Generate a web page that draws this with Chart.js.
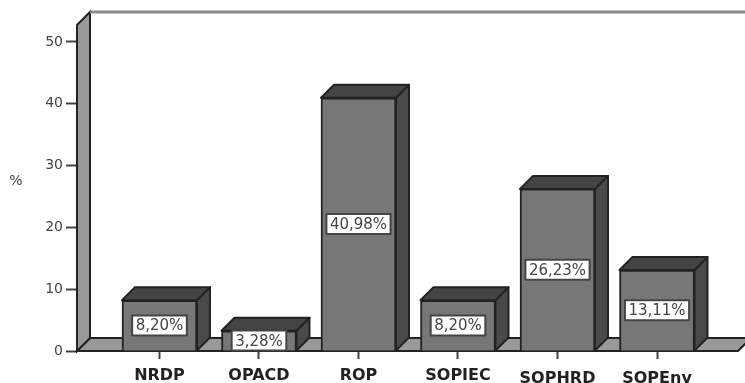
<!DOCTYPE html>
<html>
<head>
<meta charset="utf-8">
<title>Share by programme</title>
<script src="https://cdn.jsdelivr.net/npm/chart.js@4/dist/chart.umd.js"></script>
<style>
  html, body { margin: 0; padding: 0; background: #fff; }
  #wrap { position: relative; width: 745px; height: 383px; }
</style>
</head>
<body>
<div id="wrap"><canvas id="chart"></canvas></div>
<script>
const categories = ["NRDP", "OPACD", "ROP", "SOPIEC", "SOPHRD", "SOPEnv"];
const percentages = [8.20, 3.28, 40.98, 8.20, 26.23, 13.11];
const yTicks = [0, 10, 20, 30, 40, 50];

const DEPTH = 13;
const INK = "#222";
const FONT = "'DejaVu Sans', sans-serif";

function poly(ctx, pts, fill) {
  ctx.beginPath();
  pts.forEach((p, i) => i ? ctx.lineTo(p[0], p[1]) : ctx.moveTo(p[0], p[1]));
  ctx.closePath();
  ctx.fillStyle = fill;
  ctx.fill();
  ctx.stroke();
}

// the last two category labels sit a little lower
const labelDropPlugin = {
  id: "labelDrop",
  beforeDraw(chart) {
    const s = chart.scales.x;
    s.getLabelItems(chart.chartArea).slice(4).forEach(item => {
      if (!item.dropped) {
        item.textOffset += 3;
        item.dropped = true;
      }
    });
  }
};

// left wall, floor and back wall
const roomPlugin = {
  id: "room",
  beforeDatasetsDraw(chart) {
    const { ctx, chartArea: a } = chart;
    const y0 = chart.scales.y.getPixelForValue(0);
    ctx.save();
    ctx.strokeStyle = INK;
    ctx.lineWidth = 2;
    poly(ctx, [[a.left, y0], [a.left + DEPTH, y0 - DEPTH], [a.right + DEPTH, y0 - DEPTH], [a.right, y0]], "#999");
    poly(ctx, [[a.left, a.top], [a.left + DEPTH, a.top - DEPTH], [a.left + DEPTH, y0 - DEPTH], [a.left, y0]], "#999");
    ctx.strokeStyle = "#8a8a8a";
    ctx.lineWidth = 3;
    ctx.beginPath();
    ctx.moveTo(a.left + DEPTH, a.top - DEPTH);
    ctx.lineTo(a.right + DEPTH, a.top - DEPTH);
    ctx.stroke();
    ctx.restore();
  }
};

// side and top faces, then the value boxes on the front
const barFacesPlugin = {
  id: "barFaces",
  afterDatasetsDraw(chart) {
    const { ctx } = chart;
    const bars = chart.getDatasetMeta(0).data;
    ctx.save();
    ctx.strokeStyle = INK;
    ctx.lineWidth = 2;
    ctx.lineJoin = "round";
    bars.forEach(b => {
      const l = b.x - b.width / 2, r = b.x + b.width / 2;
      poly(ctx, [[r, b.y], [r + DEPTH, b.y - DEPTH], [r + DEPTH, b.base - DEPTH], [r, b.base]], "#4a4a4a");
      poly(ctx, [[l, b.y], [l + DEPTH, b.y - DEPTH], [r + DEPTH, b.y - DEPTH], [r, b.y]], "#444");
    });
    ctx.font = "15px " + FONT;
    ctx.textAlign = "center";
    ctx.textBaseline = "middle";
    bars.forEach((b, i) => {
      const text = percentages[i].toFixed(2).replace(".", ",") + "%";
      const w = ctx.measureText(text).width + 7;
      const cy = (b.y + b.base) / 2;
      ctx.fillStyle = "#fff";
      ctx.strokeStyle = "#444";
      ctx.lineWidth = 2;
      ctx.fillRect(b.x - w / 2, cy - 10, w, 20);
      ctx.strokeRect(b.x - w / 2, cy - 10, w, 20);
      ctx.fillStyle = "#444";
      ctx.fillText(text, b.x, cy + 1);
    });
    ctx.restore();
  }
};

new Chart(document.getElementById("chart"), {
  type: "bar",
  data: {
    datasets: [{
      data: percentages.map((v, i) => ({ x: i, y: v })),
      backgroundColor: "#777",
      borderColor: INK,
      borderWidth: 2,
      barThickness: 75
    }]
  },
  options: {
    responsive: true,
    maintainAspectRatio: false,
    animation: false,
    layout: { padding: { top: 25, right: 7, left: 0, bottom: 0 } },
    plugins: { legend: { display: false }, tooltip: { enabled: false } },
    scales: {
      x: {
        type: "linear",
        offset: false,
        min: -0.829,
        max: 5.814,
        afterFit(s) { s.height = 32; },
        afterBuildTicks(s) { s.ticks = categories.map((c, i) => ({ value: i })); },
        grid: { offset: false, drawOnChartArea: false, tickLength: 8, tickColor: "#444", tickWidth: 2 },
        border: { display: false },
        ticks: {
          autoSkip: false,
          maxRotation: 0,
          padding: 7,
          color: "#222",
          font: { family: FONT, size: 16, weight: "bold" },
          callback: v => categories[v]
        }
      },
      y: {
        min: 0,
        max: 52.75,
        afterFit(s) { s.width = 77; },
        afterBuildTicks(s) { s.ticks = yTicks.map(v => ({ value: v })); },
        grid: { drawOnChartArea: false, tickLength: 11, tickColor: "#444", tickWidth: 2 },
        border: { display: false },
        ticks: {
          padding: 3,
          color: "#444",
          font: { family: FONT, size: 14 }
        }
      }
    }
  },
  plugins: [labelDropPlugin, roomPlugin, barFacesPlugin, {
    id: "yTitle",
    afterDraw(chart) {
      const { ctx } = chart;
      ctx.save();
      ctx.fillStyle = "#444";
      ctx.font = "14px " + FONT;
      ctx.textAlign = "center";
      ctx.textBaseline = "middle";
      ctx.fillText("%", 16, chart.scales.y.getPixelForValue(27.5));
      ctx.restore();
    }
  }]
});
</script>
</body>
</html>
